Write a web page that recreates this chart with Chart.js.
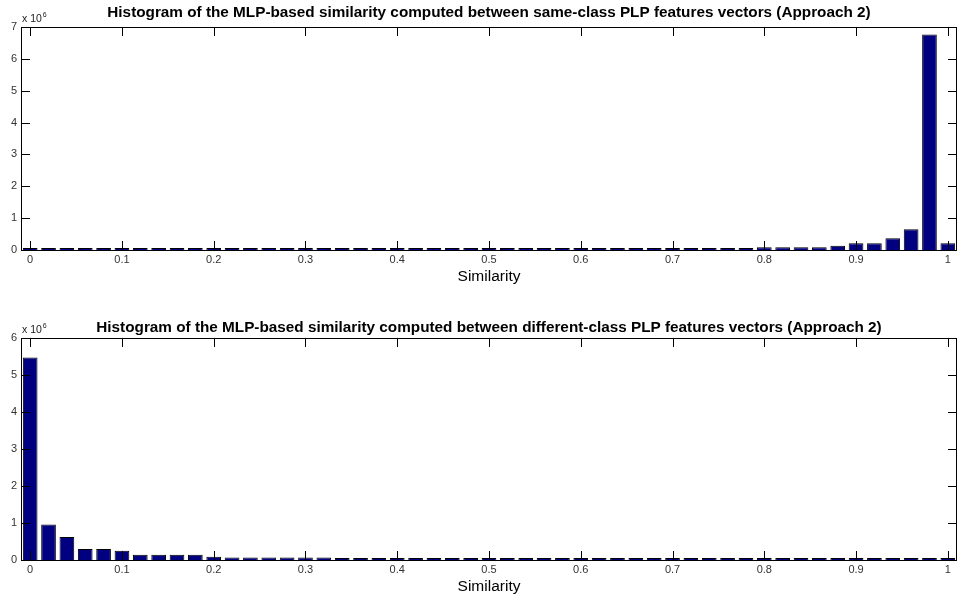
<!DOCTYPE html>
<html>
<head>
<meta charset="utf-8">
<title>Histogramas de similitud MLP</title>
<script src="https://cdn.jsdelivr.net/npm/chart.js@4.4.0/dist/chart.umd.min.js"></script>
<style>
    html, body { margin: 0; padding: 0; background: #fff; }
    .panel { position: absolute; left: 0; width: 958px; height: 299px; }
    #panelMismo { top: 0; }
    #panelDistinto { top: 299px; }
</style>
</head>
<body>
<div class="panel" id="panelMismo"><canvas id="chartMismo"></canvas></div>
<div class="panel" id="panelDistinto"><canvas id="chartDistinto"></canvas></div>
<script>
// Centros de los bins del histograma
const similitud = ['0', '0.02', '0.04', '0.06', '0.08', '0.1', '0.12', '0.14', '0.16', '0.18',
    '0.2', '0.22', '0.24', '0.26', '0.28', '0.3', '0.32', '0.34', '0.36', '0.38',
    '0.4', '0.42', '0.44', '0.46', '0.48', '0.5', '0.52', '0.54', '0.56', '0.58',
    '0.6', '0.62', '0.64', '0.66', '0.68', '0.7', '0.72', '0.74', '0.76', '0.78',
    '0.8', '0.82', '0.84', '0.86', '0.88', '0.9', '0.92', '0.94', '0.96', '0.98', '1'];

// Etiquetas de los ejes
const etiquetasX = ['0', '0.1', '0.2', '0.3', '0.4', '0.5', '0.6', '0.7', '0.8', '0.9', '1'];
const etiquetasYMismo = [0, 1, 2, 3, 4, 5, 6, 7];
const etiquetasYDistinto = [0, 1, 2, 3, 4, 5, 6];

// Conteos (x 10^6) - misma clase
const conteosMismo = [0.01, 0.01, 0.01, 0.01, 0.01, 0.01, 0.01, 0.01, 0.01, 0.01,
    0.01, 0.01, 0.01, 0.01, 0.01, 0.01, 0.04, 0.01, 0.01, 0.01,
    0.01, 0.01, 0.01, 0.03, 0.03, 0.03, 0.03, 0.03, 0.03, 0.03,
    0.03, 0.03, 0.01, 0.03, 0.03, 0.03, 0.03, 0.03, 0.03, 0.06,
    0.09, 0.09, 0.09, 0.09, 0.13, 0.21, 0.21, 0.37, 0.65, 6.76, 0.21];

// Conteos (x 10^6) - distinta clase
const conteosDistinto = [5.47, 0.96, 0.62, 0.30, 0.30, 0.25, 0.14, 0.14, 0.14, 0.14,
    0.09, 0.07, 0.07, 0.07, 0.07, 0.07, 0.07, 0.03, 0.03, 0.03,
    0.03, 0.03, 0.05, 0.05, 0.05, 0.03, 0.03, 0.03, 0.03, 0.03,
    0.01, 0.01, 0.01, 0.02, 0.02, 0.01, 0.01, 0.01, 0.01, 0.01,
    0.01, 0.01, 0.01, 0.01, 0.01, 0.01, 0.01, 0.01, 0.01, 0.01, 0.01];

const fuente = "'Liberation Sans', Arial, Helvetica, sans-serif";

// Plugin: caja estilo Matlab con ticks hacia dentro y multiplicador x 10^6
const marcoMatlab = {
    id: 'marcoMatlab',
    afterDatasetsDraw(chart) {
        const { ctx, chartArea: a, scales: { x, y } } = chart;
        const largo = 9;
        ctx.save();
        ctx.strokeStyle = '#000';
        ctx.lineWidth = 1;
        ctx.beginPath();
        ctx.rect(Math.round(a.left) + 0.5, Math.round(a.top) + 0.5,
            Math.round(a.right - a.left) - 1, Math.round(a.bottom - a.top));
        etiquetasX.forEach(et => {
            const px = Math.round(x.getPixelForValue(similitud.indexOf(et))) + 0.5;
            ctx.moveTo(px, a.bottom); ctx.lineTo(px, a.bottom - largo);
            ctx.moveTo(px, a.top); ctx.lineTo(px, a.top + largo);
        });
        y.ticks.forEach(t => {
            const py = Math.round(y.getPixelForValue(t.value)) + 0.5;
            ctx.moveTo(a.left, py); ctx.lineTo(a.left + largo, py);
            ctx.moveTo(a.right, py); ctx.lineTo(a.right - largo, py);
        });
        ctx.stroke();

        // multiplicador del eje y
        ctx.fillStyle = '#222';
        ctx.textBaseline = 'alphabetic';
        ctx.font = '10.5px ' + fuente;
        ctx.fillText('x 10', a.left + 1, a.top - 5);
        const ancho = ctx.measureText('x 10').width;
        ctx.font = '7px ' + fuente;
        ctx.fillText('6', a.left + 2 + ancho, a.top - 10);
        ctx.restore();
    }
};

function crearHistograma(idCanvas, conteos, etiquetasY, titulo, relleno) {
    const ctx = document.getElementById(idCanvas).getContext('2d');

    return new Chart(ctx, {
        type: 'bar',
        data: {
            labels: similitud,
            datasets: [{
                data: conteos,
                backgroundColor: '#000080',
                borderColor: '#000',
                borderWidth: 1,
                minBarLength: 2,
                barPercentage: 0.8,
                categoryPercentage: 1
            }]
        },
        options: {
            responsive: true,
            maintainAspectRatio: false,
            animation: false,
            events: [],
            layout: { padding: { left: 0, right: 1, top: 0, bottom: 0 } },
            plugins: {
                legend: { display: false },
                tooltip: { enabled: false },
                title: {
                    display: true,
                    text: titulo,
                    fullSize: false,
                    color: '#000',
                    font: { family: fuente, size: 15.3, weight: 'bold', lineHeight: 1.2 },
                    padding: relleno.titulo
                }
            },
            scales: {
                x: {
                    type: 'category',
                    offset: true,
                    grid: { display: false, drawTicks: false },
                    border: { display: false },
                    ticks: {
                        autoSkip: false,
                        maxRotation: 0,
                        padding: 3,
                        color: '#333',
                        font: { family: fuente, size: 11 },
                        callback: function (valor) {
                            const et = this.getLabelForValue(valor);
                            return etiquetasX.includes(et) ? et : '';
                        }
                    },
                    title: {
                        display: true,
                        text: 'Similarity',
                        color: '#000',
                        font: { family: fuente, size: 15.5 },
                        padding: { top: 0, bottom: relleno.ejeX }
                    },
                    afterFit: eje => { eje.height = relleno.altoX; }
                },
                y: {
                    min: etiquetasY[0],
                    max: etiquetasY[etiquetasY.length - 1],
                    grid: { display: false, drawTicks: false },
                    border: { display: false },
                    afterBuildTicks: eje => { eje.ticks = etiquetasY.map(v => ({ value: v })); },
                    ticks: {
                        padding: 4,
                        color: '#333',
                        font: { family: fuente, size: 11 }
                    },
                    afterFit: eje => { eje.width = 21; }
                }
            }
        },
        plugins: [marcoMatlab]
    });
}

crearHistograma('chartMismo', conteosMismo, etiquetasYMismo,
    'Histogram of the MLP-based similarity computed between same-class PLP features vectors (Approach 2)',
    { titulo: { top: 4, bottom: 4.6 }, ejeX: 13.4, altoX: 49 });

crearHistograma('chartDistinto', conteosDistinto, etiquetasYDistinto,
    'Histogram of the MLP-based similarity computed between different-class PLP features vectors (Approach 2)',
    { titulo: { top: 19.5, bottom: 1.1 }, ejeX: 2.4, altoX: 38 });
</script>
</body>
</html>
